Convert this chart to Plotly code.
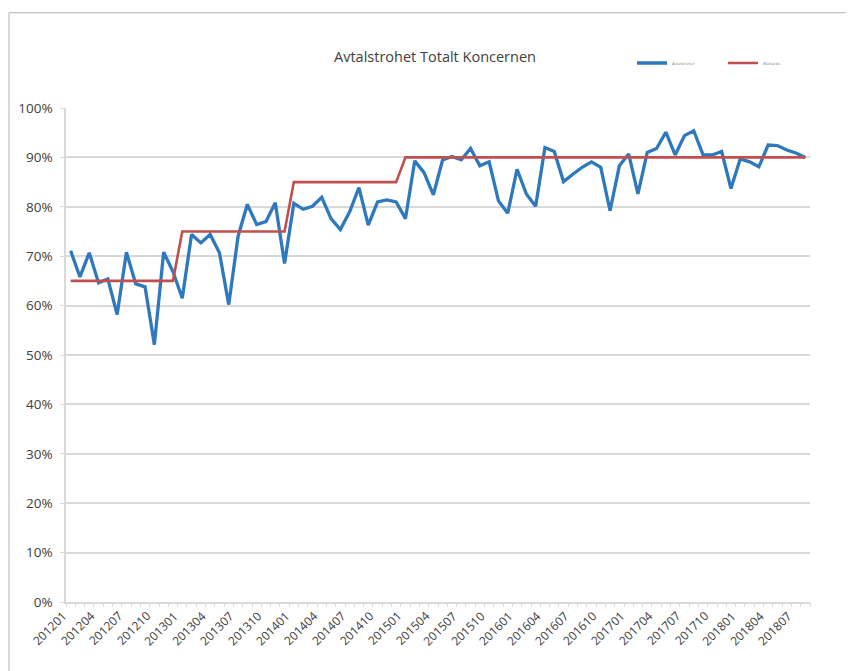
import plotly.graph_objects as go

# Categories: months 201201 .. 201808
months = [f"{y}{m:02d}" for y in range(2012, 2019) for m in range(1, 13)][:80]

# Actual values (fraction)
actual = [
    0.711, 0.658, 0.707, 0.646, 0.654, 0.582, 0.708, 0.644, 0.638, 0.521,
    0.708, 0.669, 0.615, 0.744, 0.727, 0.744, 0.707, 0.602, 0.740, 0.805,
    0.764, 0.770, 0.808, 0.685, 0.807, 0.795, 0.801, 0.819, 0.776, 0.754,
    0.790, 0.839, 0.763, 0.810, 0.814, 0.810, 0.776, 0.893, 0.869, 0.824,
    0.895, 0.902, 0.895, 0.918, 0.883, 0.891, 0.812, 0.787, 0.876, 0.826,
    0.801, 0.920, 0.912, 0.851, 0.866, 0.880, 0.891, 0.880, 0.792, 0.883,
    0.907, 0.826, 0.910, 0.918, 0.951, 0.905, 0.944, 0.954, 0.905, 0.905,
    0.912, 0.837, 0.897, 0.891, 0.881, 0.925, 0.924, 0.915, 0.909, 0.900,
]

# Target values per year (2012, 2013, 2014, 2015-2018)
target = [0.65] * 12 + [0.75] * 12 + [0.85] * 12 + [0.90] * 44

series_names = ["Avtalstrohet", "Målvärde"]
title_text = "Avtalstrohet Totalt Koncernen"

xidx = list(range(len(months)))
label_idx = xidx[::3]
boundaries = [i - 0.5 for i in range(len(months) + 1)]

fig = go.Figure()
fig.add_trace(go.Scatter(
    x=xidx, y=actual, mode="lines", name=series_names[0],
    line=dict(color="#2E78BE", width=3.3),
))
fig.add_trace(go.Scatter(
    x=xidx, y=target, mode="lines", name=series_names[1],
    line=dict(color="#C0504D", width=2.6),
))
# helper (invisible) trace so the boundary-tick axis is drawn
fig.add_trace(go.Scatter(
    x=[boundaries[0], boundaries[-1]], y=[0, 0], xaxis="x2", mode="lines",
    line=dict(width=0, color="rgba(0,0,0,0)"), showlegend=False, hoverinfo="skip",
))

OFF = 8  # page body margin
W, H = 854 - OFF, 671 - OFF
L, R, T, B = 58, 44, 100.3, 69.3
pw = W - L - R
ph = H - T - B

def px_to_x(px):
    return (px - OFF - L) / pw

def py_to_y(py):
    return (H - B - (py - OFF)) / ph

# rotated category labels (every third month)
annotations = [
    dict(x=i, y=0, xref="x", yref="paper", text=months[i], showarrow=False,
         textangle=-45, xanchor="right", yanchor="top", yshift=-3, xshift=2,
         font=dict(size=12, color="#404040"))
    for i in label_idx
]

fig.update_layout(
    width=W, height=H,
    margin=dict(l=L, r=R, t=T, b=B, autoexpand=False),
    paper_bgcolor="white", plot_bgcolor="white",
    font=dict(family="Open Sans, Liberation Sans, sans-serif", color="#595959"),
    title=dict(
        text=title_text, x=(435 - OFF) / W, xanchor="center", xref="container",
        y=1 - (57 - OFF) / H, yanchor="middle", yref="container",
        font=dict(size=14.5, color="#404040"),
    ),
    showlegend=True,
    legend=dict(
        orientation="h", xref="container", yref="container",
        x=(638 - 6 - OFF) / W, xanchor="left", y=1 - (63 - OFF) / H, yanchor="middle",
        font=dict(size=4, color="#7f7f7f"),
        bgcolor="rgba(0,0,0,0)", entrywidth=46, entrywidthmode="pixels",
        itemwidth=30,
    ),
    xaxis=dict(
        range=[-0.5, len(months) - 0.5],
        showticklabels=False, ticks="", showgrid=False, zeroline=False,
        showline=True, linecolor="#d9d9d9", linewidth=1.5,
    ),
    xaxis2=dict(
        overlaying="x", anchor="y", side="bottom",
        range=[-0.5, len(months) - 0.5],
        tickmode="array", tickvals=boundaries, showticklabels=False,
        ticks="outside", ticklen=4, tickcolor="#d9d9d9", tickwidth=1,
        showgrid=False, zeroline=False, showline=False,
    ),
    yaxis=dict(
        range=[0, 1], tickmode="array",
        tickvals=[i / 10 for i in range(11)],
        ticktext=[f"{i*10}%" for i in range(11)],
        tickfont=dict(size=13.5, color="#404040"),
        showgrid=True, gridcolor="#d9d9d9", gridwidth=1.5,
        zeroline=False, showline=True, linecolor="#d9d9d9", linewidth=1.5,
        ticks="outside", ticklen=4, tickcolor="#d9d9d9", ticklabelstandoff=5,
    ),
    annotations=annotations,
    shapes=[
        dict(type="line", xref="paper", yref="paper",
             x0=px_to_x(9), x1=px_to_x(870), y0=py_to_y(13), y1=py_to_y(13),
             line=dict(color="#bfbfbf", width=1.2)),
        dict(type="line", xref="paper", yref="paper",
             x0=px_to_x(9), x1=px_to_x(9), y0=py_to_y(13), y1=py_to_y(690),
             line=dict(color="#bfbfbf", width=1.2)),
    ],
)

fig.write_html("out.html")
